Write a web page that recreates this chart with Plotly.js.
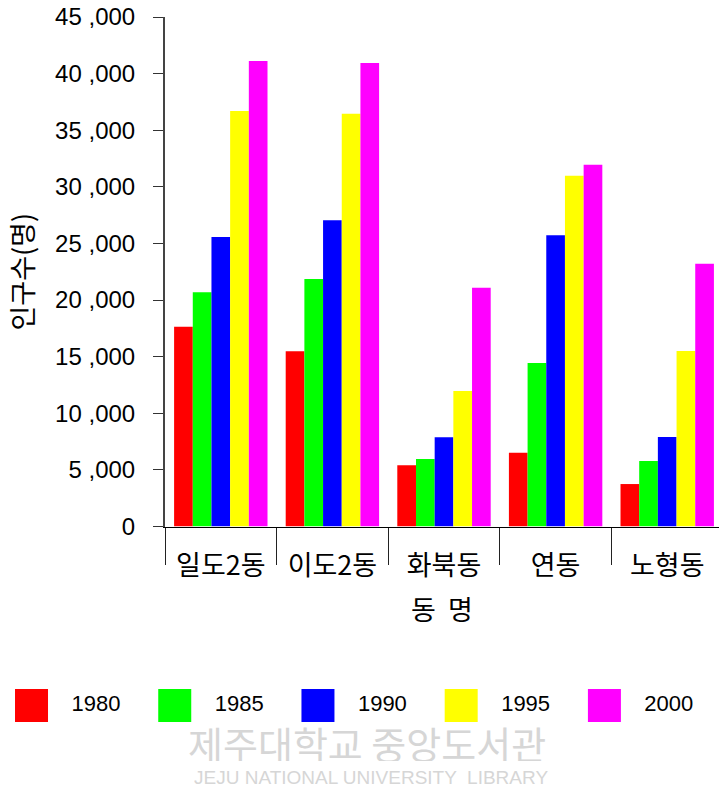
<!DOCTYPE html>
<html>
<head>
<meta charset="utf-8">
<script src="https://cdn.plot.ly/plotly-3.0.1.min.js"></script>
<style>
  html, body { margin: 0; padding: 0; background: #ffffff; }
  #chart { width: 719px; height: 795px; }
</style>
</head>
<body>
<div id="chart"></div>
<script>
// 동별 인구수 (명)
const districts = ['일도2동', '이도2동', '화북동', '연동', '노형동'];
const years = ['1980', '1985', '1990', '1995', '2000'];
const pop1980 = [17650, 15470, 5400, 6520, 3750];
const pop1985 = [20700, 21850, 5960, 14440, 5790];
const pop1990 = [25570, 27050, 7880, 25720, 7900];
const pop1995 = [36700, 36460, 11970, 30980, 15500];
const pop2000 = [41120, 40940, 21090, 31960, 23210];
const yearColors = ['#ff0000', '#00ff00', '#0000ff', '#ffff00', '#ff00ff'];

const yTickVals = [0, 5000, 10000, 15000, 20000, 25000, 30000, 35000, 40000, 45000];
const yTickText = ['0', '5 ,000', '10 ,000', '15 ,000', '20 ,000', '25 ,000',
                   '30 ,000', '35 ,000', '40 ,000', '45 ,000'];

const series = [pop1980, pop1985, pop1990, pop1995, pop2000];
const legendSlots = [0, 1, 2, 3, 4];

const traces = series.map((vals, i) => ({
  type: 'bar',
  name: years[i],
  x: districts,
  y: vals,
  xaxis: 'x',
  yaxis: 'y',
  marker: { color: yearColors[i], line: { width: 0 } },
  showlegend: false,
  hoverinfo: 'x+y+name'
}));

// legend row: large colour swatches with year labels
traces.push({
  type: 'scatter',
  mode: 'markers+text',
  x: legendSlots,
  y: legendSlots.map(() => 0),
  xaxis: 'x3',
  yaxis: 'y3',
  marker: { symbol: 'square', size: 33, color: yearColors, line: { width: 0 } },
  text: years.map(t => '\u00a0\u00a0\u00a0' + t),
  textposition: 'middle right',
  textfont: { family: 'Liberation Sans, Arial, sans-serif', size: 22, color: '#000000' },
  cliponaxis: false,
  showlegend: false,
  hoverinfo: 'skip'
});

const H = 795, T = 17;
const plotBottom = 526.5;
const yDomLow = (H - plotBottom) / (H - T);

const layout = {
  width: 719,
  height: 795,
  margin: { l: 0, r: 0, t: T, b: 0 },
  paper_bgcolor: '#ffffff',
  plot_bgcolor: '#ffffff',
  showlegend: false,
  barmode: 'group',
  bargap: 0.163,
  bargroupgap: 0,
  font: { family: 'Liberation Sans, Noto Sans CJK KR, sans-serif', color: '#000000' },
  xaxis: {
    type: 'category',
    domain: [165 / 719, 1],
    anchor: 'y',
    range: [-0.5, 4.464],
    showline: true,
    linecolor: '#000000',
    linewidth: 1,
    showgrid: false,
    zeroline: false,
    tickson: 'boundaries',
    ticks: 'outside',
    ticklen: 37,
    tickwidth: 1,
    tickcolor: '#222222',
    ticklabelstandoff: 15,
    tickfont: { family: 'Noto Sans CJK KR, sans-serif', size: 27, color: '#000000' },
    automargin: false,
    title: {
      text: '동  명',
      standoff: 19,
      font: { family: 'Noto Sans CJK KR, sans-serif', size: 27, color: '#000000' }
    }
  },
  yaxis: {
    domain: [yDomLow, 1],
    anchor: 'x',
    range: [0, 45000],
    showline: true,
    linecolor: '#444444',
    linewidth: 2,
    showgrid: false,
    zeroline: false,
    ticks: 'outside',
    ticklen: 10,
    tickwidth: 1,
    tickcolor: '#333333',
    tickvals: yTickVals,
    ticktext: yTickText,
    ticklabelstandoff: 13,
    tickfont: { family: 'Liberation Sans, Arial, sans-serif', size: 24, color: '#000000' },
    automargin: false,
    title: {
      text: '인구수(명)',
      standoff: 14,
      font: { family: 'Noto Sans CJK KR, sans-serif', size: 27, color: '#000000' }
    }
  },
  // inner half of the crossing tick marks on the value axis
  yaxis2: {
    overlaying: 'y',
    anchor: 'x',
    side: 'left',
    range: [0, 45000],
    showline: false,
    showgrid: false,
    zeroline: false,
    ticks: 'inside',
    ticklen: 10,
    tickwidth: 1,
    tickcolor: '#333333',
    tickvals: yTickVals,
    showticklabels: false
  },
  xaxis3: {
    domain: [0, 1],
    anchor: 'y3',
    range: [-0.22, 4.8],
    visible: false,
    fixedrange: true
  },
  yaxis3: {
    domain: [0.08, 0.15],
    anchor: 'x3',
    range: [-1, 1],
    visible: false,
    fixedrange: true
  },
  annotations: [
    {
      xref: 'paper', yref: 'paper',
      x: 367 / 719, y: (H - 742) / (H - T),
      xanchor: 'center', yanchor: 'middle',
      height: 38,
      text: '제주대학교 중앙도서관',
      showarrow: false,
      font: { family: 'Noto Sans CJK KR, sans-serif', size: 38, color: '#d6d6d6' }
    },
    {
      xref: 'paper', yref: 'paper',
      x: 371 / 719, y: (H - 777) / (H - T),
      xanchor: 'center', yanchor: 'middle',
      height: 16,
      text: 'JEJU NATIONAL UNIVERSITY  LIBRARY',
      showarrow: false,
      font: { family: 'Liberation Sans Narrow, Liberation Sans, sans-serif', size: 19, color: '#d6d6d6' }
    }
  ]
};

Plotly.newPlot('chart', traces, layout, { displayModeBar: false, staticPlot: true });
</script>
</body>
</html>
